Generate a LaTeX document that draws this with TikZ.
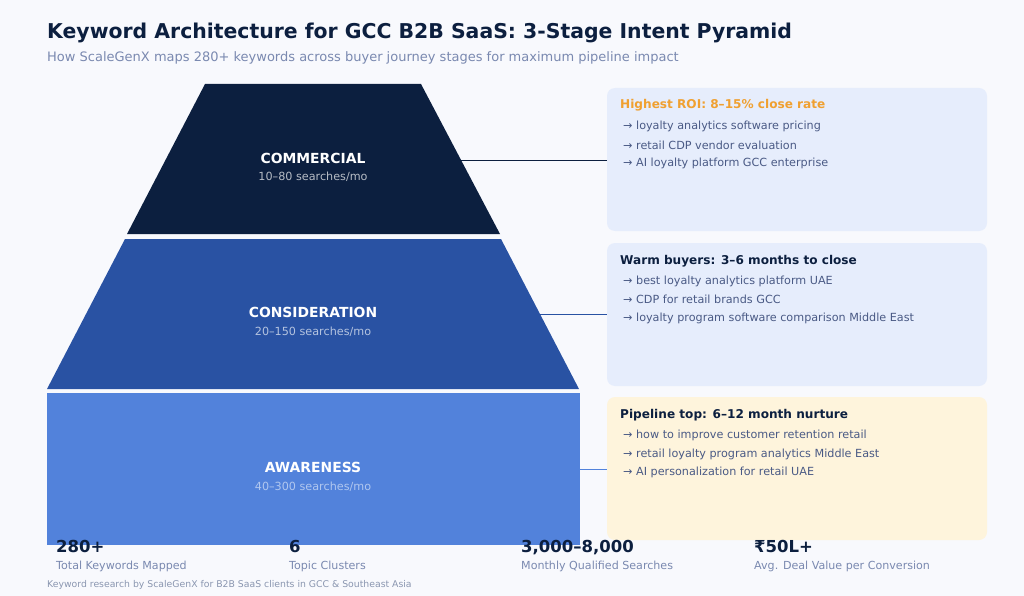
\documentclass[tikz,border=0pt]{standalone}
\usepackage{fontspec}
\setmainfont{DejaVu Sans}
\begin{document}
\definecolor{bg}{HTML}{F8F9FD}
\definecolor{navy}{HTML}{0C1F3F}
\definecolor{midblue}{HTML}{2952A3}
\definecolor{lightblue}{HTML}{5282DB}
\definecolor{cardblue}{HTML}{E6EDFC}
\definecolor{cardcream}{HTML}{FEF4DC}
\definecolor{subgray}{HTML}{7A89B0}
\definecolor{itemcol}{HTML}{4A5A85}
\definecolor{orangeh}{HTML}{F0A030}
\definecolor{footgray}{HTML}{8A96B0}
\begin{tikzpicture}[x=1pt,y=-1pt,
  lbl/.style={inner sep=0pt, anchor=center, text=white, font=\bfseries\fontsize{13.9}{16}\selectfont},
  sublbl/.style={inner sep=0pt, anchor=center, font=\fontsize{11.2}{13}\selectfont},
  card/.style={rounded corners=8pt, draw=none},
  head/.style={inner sep=0pt, anchor=base west, font=\bfseries\fontsize{12.1}{14}\selectfont},
  item/.style={inner sep=0pt, anchor=west, text=itemcol, font=\fontsize{11.2}{13}\selectfont},
  statnum/.style={inner sep=0pt, anchor=base west, text=navy, font=\bfseries\fontsize{16.5}{19}\selectfont},
  statlbl/.style={inner sep=0pt, anchor=west, text=subgray, font=\fontsize{11.1}{13}\selectfont},
  conn/.style={line width=0.8pt}]
\fill[bg] (0,0) rectangle (1024,596);
\useasboundingbox (0,0) rectangle (1024,596);
% title
\node[inner sep=0pt, anchor=west, text=navy, font=\bfseries\fontsize{20.4}{24}\selectfont] (title) at (47,33) {Keyword Architecture for GCC B2B SaaS: 3-Stage Intent Pyramid};
\node[inner sep=0pt, anchor=west, text=subgray, font=\fontsize{13}{15}\selectfont] (subtitle) at (47,58) {How ScaleGenX maps 280+ keywords across buyer journey stages for maximum pipeline impact};
% pyramid
\fill[navy] (205,84) -- (421,84) -- (500,234) -- (127,234) -- cycle;
\fill[midblue] (125,239) -- (501,239) -- (579,389) -- (47,389) -- cycle;
\fill[lightblue] (47,393) rectangle (580,545);
\coordinate (c1) at (461,160);
\coordinate (c2) at (540,314);
\coordinate (c3) at (580,469);
\node[lbl] (commercial) at (313,158) {COMMERCIAL};
\node[sublbl, text=white!70!navy] (commsub) at (313,177) {10–80 searches/mo};
\node[lbl] (consideration) at (313,312) {CONSIDERATION};
\node[sublbl, text=white!65!midblue] (conssub) at (313,332) {20–150 searches/mo};
\node[lbl] (awareness) at (313,467) {AWARENESS};
\node[sublbl, text=white!55!lightblue] (awsub) at (313,487) {40–300 searches/mo};
% cards
\node[card, fill=cardblue, minimum width=380pt, minimum height=143pt, inner sep=0pt] (card1) at (797,159.5) {};
\node[card, fill=cardblue, minimum width=380pt, minimum height=143pt, inner sep=0pt] (card2) at (797,314.5) {};
\node[card, fill=cardcream, minimum width=380pt, minimum height=143pt, inner sep=0pt] (card3) at (797,468.5) {};
\draw[conn, navy] (c1) -- (c1 -| card1.west);
\draw[conn, midblue] (c2) -- (c2 -| card2.west);
\draw[conn, lightblue] (c3) -- (c3 -| card3.west);
\node[head, text=orangeh] (h1) at (620,109) {Highest ROI: 8–15\% close rate};
\node[item] (i11) at (623,126.5) {→ loyalty analytics software pricing};
\node[item] (i12) at (623,145) {→ retail CDP vendor evaluation};
\node[item] (i13) at (623,163.5) {→ AI loyalty platform GCC enterprise};
\node[head, text=navy] (h2) at (620,264) {Warm buyers: 3–6 months to close};
\node[item] (i21) at (623,281) {→ best loyalty analytics platform UAE};
\node[item] (i22) at (623,299.5) {→ CDP for retail brands GCC};
\node[item] (i23) at (623,318) {→ loyalty program software comparison Middle East};
\node[head, text=navy] (h3) at (620,418) {Pipeline top: 6–12 month nurture};
\node[item] (i31) at (623,435.5) {→ how to improve customer retention retail};
\node[item] (i32) at (623,454) {→ retail loyalty program analytics Middle East};
\node[item] (i33) at (623,472.5) {→ AI personalization for retail UAE};
% stats
\node[statnum] (s1) at (56,552) {280+};
\node[statlbl] (l1) at (56,566) {Total Keywords Mapped};
\node[statnum] (s2) at (289,552) {6};
\node[statlbl] (l2) at (289,566) {Topic Clusters};
\node[statnum] (s3) at (521,552) {3,000–8,000};
\node[statlbl] (l3) at (521,566) {Monthly Qualified Searches};
\node[statnum] (s4) at (754,552) {₹50L+};
\node[statlbl] (l4) at (754,566) {Avg. Deal Value per Conversion};
\node[inner sep=0pt, anchor=west, text=footgray, font=\fontsize{9.3}{11}\selectfont] (foot) at (47,585) {Keyword research by ScaleGenX for B2B SaaS clients in GCC \& Southeast Asia};
\end{tikzpicture}
\end{document}
